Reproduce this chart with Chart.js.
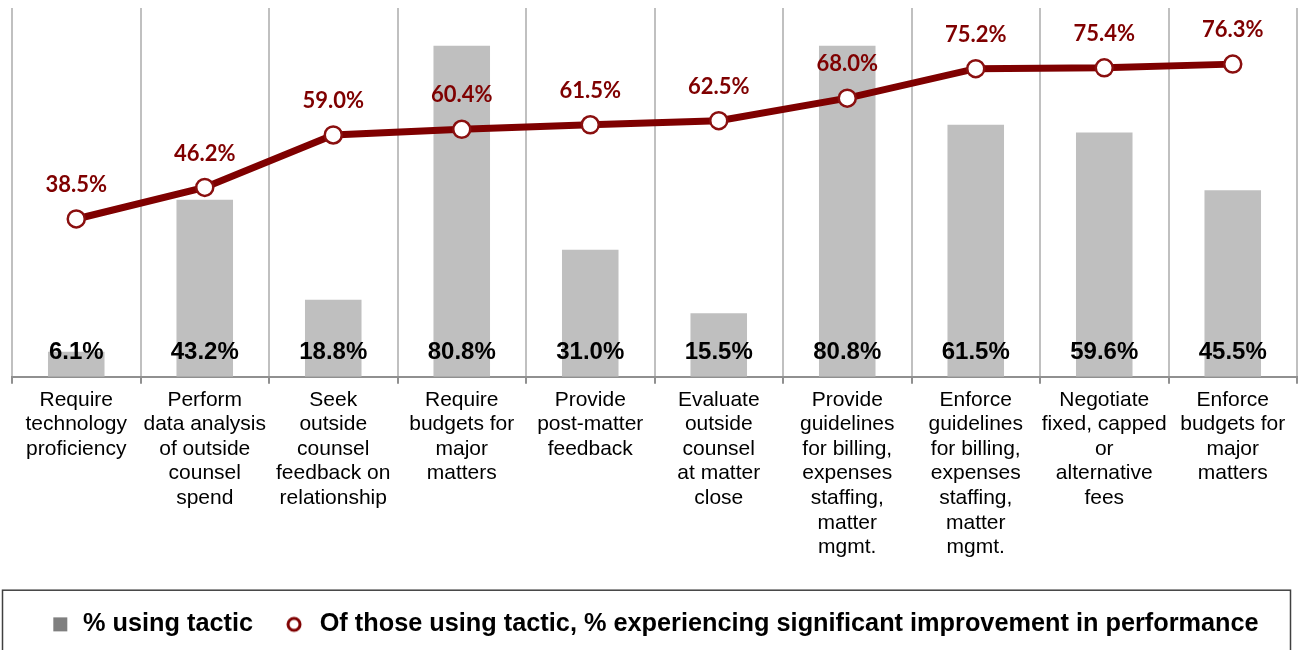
<!DOCTYPE html>
<html>
<head>
<meta charset="utf-8">
<script src="https://cdn.jsdelivr.net/npm/chart.js@4"></script>
<style>
  html, body { margin: 0; padding: 0; background: #fff; }
  #wrap { width: 1299px; height: 650px; }
</style>
</head>
<body>
<div id="wrap"><canvas id="tactics-chart"></canvas></div>
<script>
var tactics = [
  ["Require", "technology", "proficiency"],
  ["Perform", "data analysis", "of outside", "counsel", "spend"],
  ["Seek", "outside", "counsel", "feedback on", "relationship"],
  ["Require", "budgets for", "major", "matters"],
  ["Provide", "post-matter", "feedback"],
  ["Evaluate", "outside", "counsel", "at matter", "close"],
  ["Provide", "guidelines", "for billing,", "expenses", "staffing,", "matter", "mgmt."],
  ["Enforce", "guidelines", "for billing,", "expenses", "staffing,", "matter", "mgmt."],
  ["Negotiate", "fixed, capped", "or", "alternative", "fees"],
  ["Enforce", "budgets for", "major", "matters"]
];
var usingTactic = [6.1, 43.2, 18.8, 80.8, 31.0, 15.5, 80.8, 61.5, 59.6, 45.5];
var improvement = [38.5, 46.2, 59.0, 60.4, 61.5, 62.5, 68.0, 75.2, 75.4, 76.3];
var seriesNames = ["% using tactic", "Of those using tactic, % experiencing significant improvement in performance"];

var darkRed = '#7f0000';
var barGrey = '#bfbfbf';

// little legend symbols
function legendSymbol(kind) {
  var c = document.createElement('canvas');
  c.width = 22; c.height = 18;
  var g = c.getContext('2d');
  if (kind === 'square') {
    g.fillStyle = '#7f7f7f';
    g.fillRect(4, 2, 14, 14);
  } else {
    g.beginPath();
    g.arc(8, 9, 6, 0, Math.PI * 2);
    g.fillStyle = '#fff';
    g.fill();
    g.lineWidth = 3;
    g.strokeStyle = darkRed;
    g.stroke();
  }
  return c;
}

// value labels: bar values sit at the bottom of the bar, line values above the points
var valueLabels = {
  id: 'valueLabels',
  afterDatasetsDraw: function(chart) {
    var ctx = chart.ctx;
    var yScale = chart.scales.y;
    ctx.save();
    ctx.textAlign = 'center';
    ctx.textBaseline = 'middle';
    ctx.font = 'bold 24px "Liberation Sans", Arial, sans-serif';
    ctx.fillStyle = '#000';
    chart.getDatasetMeta(1).data.forEach(function(bar, i) {
      ctx.fillText(usingTactic[i].toFixed(1) + '%', bar.x, yScale.getPixelForValue(0) - 24);
    });
    ctx.font = 'bold 22px Lato, "Open Sans", sans-serif';
    ctx.fillStyle = darkRed;
    chart.getDatasetMeta(0).data.forEach(function(pt, i) {
      ctx.fillText(improvement[i].toFixed(1) + '%', pt.x, pt.y - 34);
    });
    ctx.restore();
  }
};

// frame round the legend
var legendBox = {
  id: 'legendBox',
  afterDraw: function(chart) {
    var ctx = chart.ctx;
    var top = chart.scales.x.bottom + 12.5;
    ctx.save();
    ctx.strokeStyle = '#404040';
    ctx.lineWidth = 1.5;
    ctx.strokeRect(2.5, top, chart.width - 11, chart.height);
    ctx.restore();
  }
};

new Chart(document.getElementById('tactics-chart'), {
  type: 'bar',
  data: {
    labels: tactics,
    datasets: [{
      type: 'line',
      label: seriesNames[1],
      data: improvement,
      borderColor: darkRed,
      borderWidth: 7,
      backgroundColor: '#fff',
      pointBackgroundColor: '#fff',
      pointBorderColor: '#8a0f0f',
      pointBorderWidth: 2.5,
      pointRadius: 8.5,
      tension: 0,
      order: 0
    }, {
      label: seriesNames[0],
      data: usingTactic,
      backgroundColor: barGrey,
      barPercentage: 0.44,
      categoryPercentage: 1,
      order: 1
    }]
  },
  options: {
    responsive: true,
    maintainAspectRatio: false,
    animation: false,
    layout: { autoPadding: false, padding: { left: 12, right: 2, top: 8, bottom: 3 } },
    plugins: {
      tooltip: { enabled: false },
      legend: {
        position: 'bottom',
        labels: {
          usePointStyle: true,
          padding: 34,
          boxWidth: 20,
          boxHeight: 20,
          color: '#000',
          font: { family: '"Liberation Sans Narrow", "Liberation Sans", Arial, sans-serif', size: 25.3, weight: 'bold' },
          generateLabels: function(chart) {
            return [{
              text: seriesNames[0], datasetIndex: 1, pointStyle: legendSymbol('square'),
              fillStyle: '#7f7f7f', strokeStyle: '#7f7f7f', lineWidth: 0
            }, {
              text: seriesNames[1], datasetIndex: 0, pointStyle: legendSymbol('circle'),
              fillStyle: '#fff', strokeStyle: darkRed, lineWidth: 3
            }];
          }
        }
      }
    },
    scales: {
      x: {
        offset: true,
        afterFit: function(scale) { scale.height = 201; },
        grid: {
          offset: true,
          color: '#c0c0c0',
          lineWidth: 2,
          tickLength: 7,
          tickColor: '#909090'
        },
        border: { color: '#909090', width: 2 },
        ticks: {
          color: '#000',
          maxRotation: 0,
          autoSkip: false,
          padding: 4,
          font: { family: '"Liberation Sans", Arial, sans-serif', size: 21, lineHeight: 1.17 }
        }
      },
      y: {
        display: false,
        min: 0,
        max: 90
      }
    }
  },
  plugins: [valueLabels, legendBox]
});
</script>
</body>
</html>
